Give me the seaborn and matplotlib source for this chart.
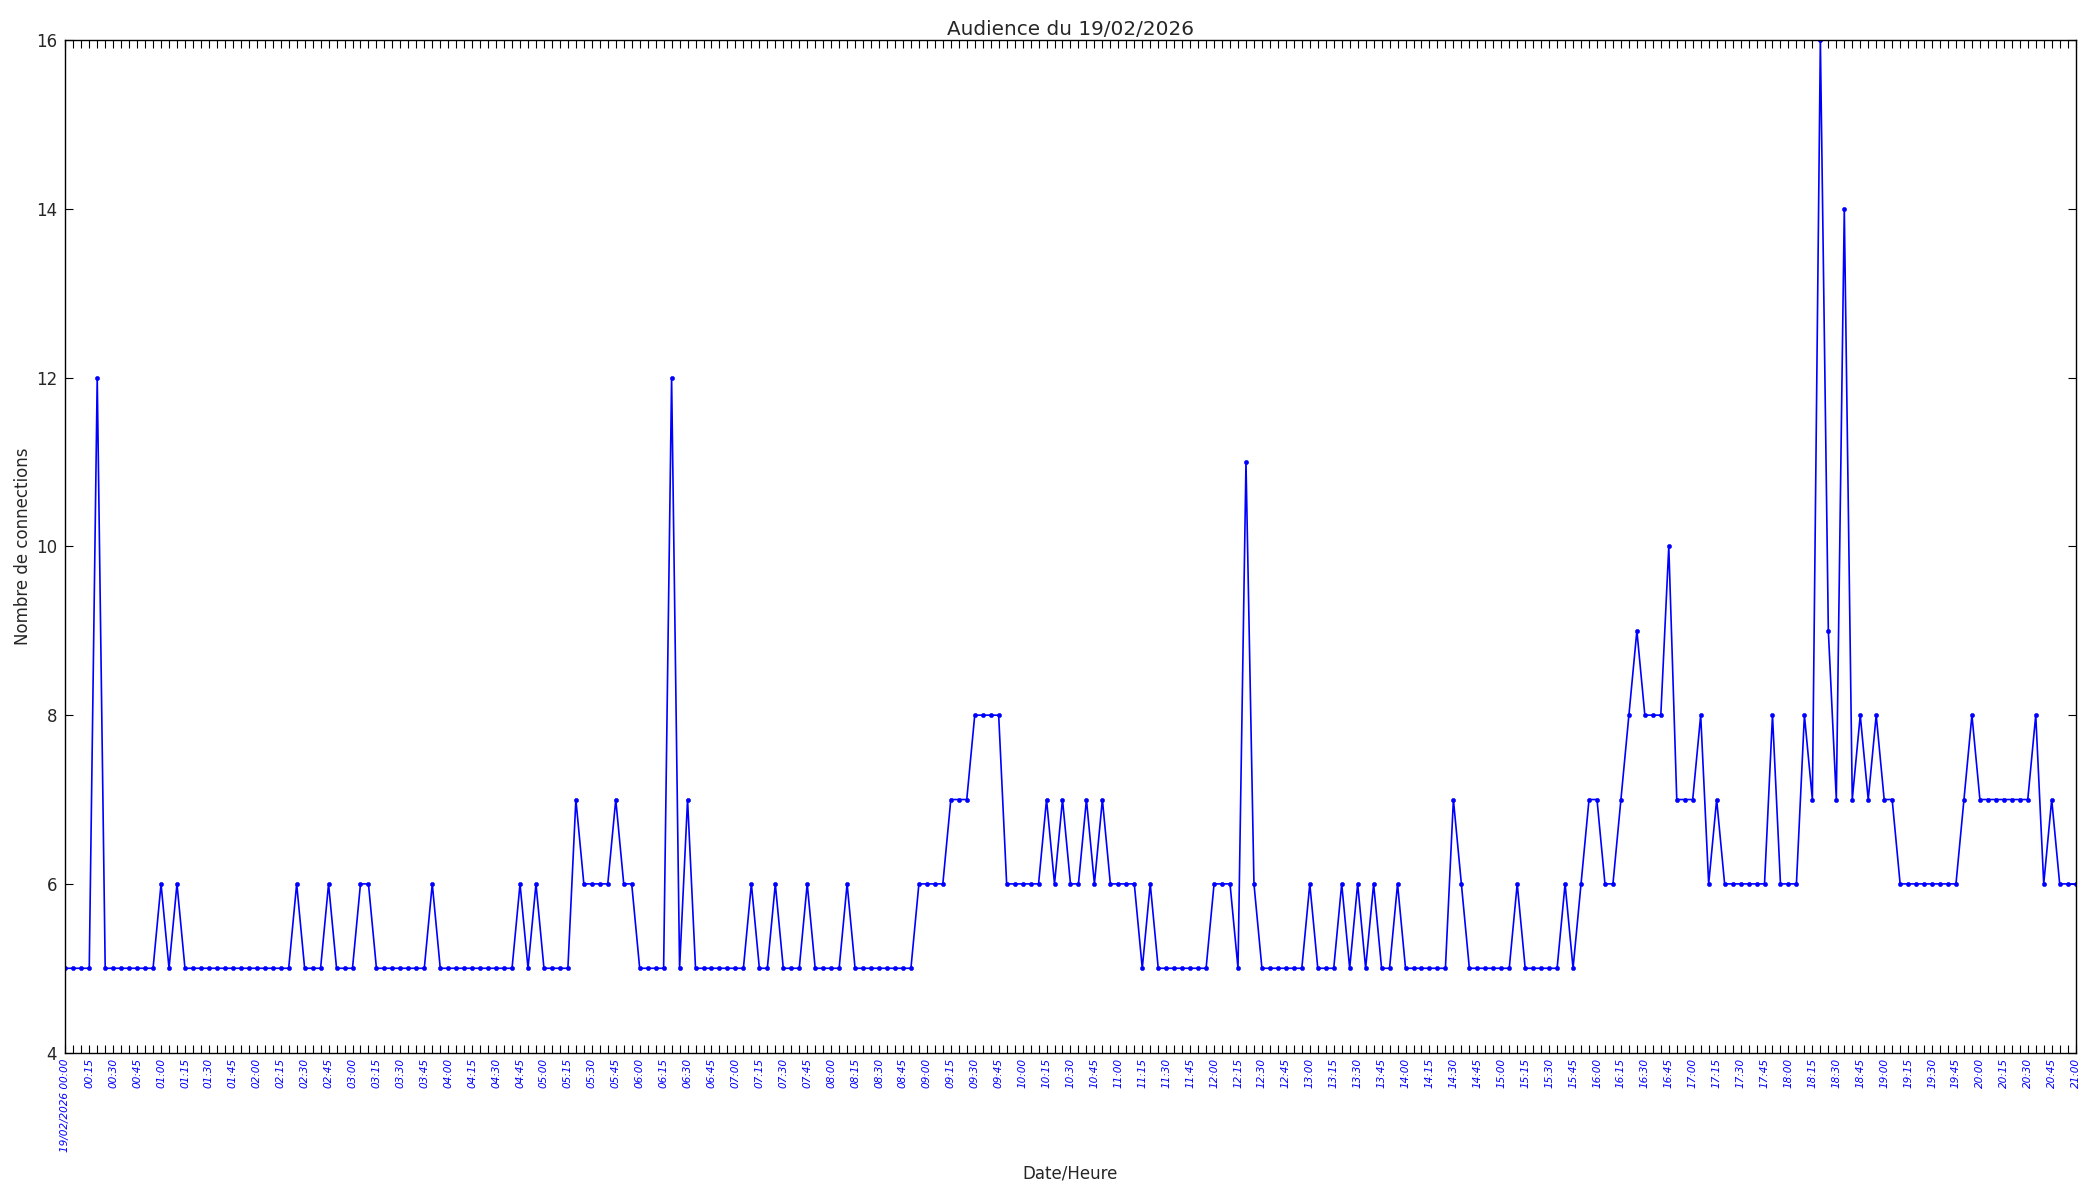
import numpy as np
import pandas as pd
import matplotlib
matplotlib.use("Agg")
import matplotlib.pyplot as plt
import matplotlib.dates as mdates
from matplotlib.ticker import FuncFormatter, FixedLocator
import seaborn as sns

# ---------------- data ----------------
title = "Audience du 19/02/2026"
x_label = "Date/Heure"
y_label = "Nombre de connections"
start_time = "2026-02-19 00:00"
end_time = "2026-02-19 21:00"
step = "5min"
first_label_fmt = "%d/%m/%Y %H:%M"
other_label_fmt = "%H:%M"
y_ticks = [4, 6, 8, 10, 12, 14, 16]

connections = [
    5, 5, 5, 5, 12, 5, 5, 5, 5, 5, 5, 5, 6, 5, 6, 5, 5, 5, 5, 5, 5,
    5, 5, 5, 5, 5, 5, 5, 5, 6, 5, 5, 5, 6, 5, 5, 5, 6, 6, 5, 5, 5,
    5, 5, 5, 5, 6, 5, 5, 5, 5, 5, 5, 5, 5, 5, 5, 6, 5, 6, 5, 5, 5,
    5, 7, 6, 6, 6, 6, 7, 6, 6, 5, 5, 5, 5, 12, 5, 7, 5, 5, 5, 5, 5,
    5, 5, 6, 5, 5, 6, 5, 5, 5, 6, 5, 5, 5, 5, 6, 5, 5, 5, 5, 5, 5,
    5, 5, 6, 6, 6, 6, 7, 7, 7, 8, 8, 8, 8, 6, 6, 6, 6, 6, 7, 6, 7,
    6, 6, 7, 6, 7, 6, 6, 6, 6, 5, 6, 5, 5, 5, 5, 5, 5, 5, 6, 6, 6,
    5, 11, 6, 5, 5, 5, 5, 5, 5, 6, 5, 5, 5, 6, 5, 6, 5, 6, 5, 5, 6,
    5, 5, 5, 5, 5, 5, 7, 6, 5, 5, 5, 5, 5, 5, 6, 5, 5, 5, 5, 5, 6,
    5, 6, 7, 7, 6, 6, 7, 8, 9, 8, 8, 8, 10, 7, 7, 7, 8, 6, 7, 6, 6,
    6, 6, 6, 6, 8, 6, 6, 6, 8, 7, 16, 9, 7, 14, 7, 8, 7, 8, 7, 7, 6,
    6, 6, 6, 6, 6, 6, 6, 7, 8, 7, 7, 7, 7, 7, 7, 7, 8, 6, 7, 6, 6, 6,
]

# ---------------- plot ----------------
sns.set_style("ticks")
plt.rcParams["font.family"] = ["DejaVu Sans"]
plt.rcParams["font.size"] = 12

times = pd.date_range(start_time, end_time, freq=step)
df = pd.DataFrame({"time": times, "connections": connections})

fig = plt.figure(figsize=(21, 12), dpi=100)
ax = fig.add_axes([0.0311, 0.1228, 0.9573, 0.8437])

sns.lineplot(data=df, x="time", y="connections", ax=ax, color="blue",
             linewidth=1.2, marker="o", markersize=3.0,
             markeredgecolor="blue", markeredgewidth=0.4)

ax.set_xlim(times[0], times[-1])
ax.set_ylim(y_ticks[0], y_ticks[-1])
ax.yaxis.set_major_locator(FixedLocator(y_ticks))

ax.xaxis.set_major_locator(mdates.MinuteLocator(byminute=[0, 15, 30, 45]))
ax.xaxis.set_minor_locator(mdates.MinuteLocator(byminute=list(range(0, 60, 5))))

start_num = mdates.date2num(times[0])


def fmt(v, pos):
    d = mdates.num2date(v)
    if abs(v - start_num) < 1e-6:
        return d.strftime(first_label_fmt)
    return d.strftime(other_label_fmt)


ax.xaxis.set_major_formatter(FuncFormatter(fmt))

for s in ax.spines.values():
    s.set_visible(True)
    s.set_linewidth(1.0)
    s.set_color("black")

ax.tick_params(which="both", direction="in", top=True, right=True,
               length=5.5, width=0.8, color="black")
ax.tick_params(axis="x", which="major", labelsize=7.6, labelcolor="blue",
               labelrotation=90, pad=4)
ax.tick_params(axis="y", labelsize=12, pad=6)

ax.set_title(title, fontsize=14.4, pad=4)
ax.set_xlabel(x_label, fontsize=12, labelpad=9)
ax.set_ylabel(y_label, fontsize=12, labelpad=3)

fig.canvas.draw()
for lbl in ax.get_xticklabels():
    lbl.set_fontstyle("italic")
    lbl.set_color("blue")

fig.savefig("out.png", dpi=100, facecolor="white")
